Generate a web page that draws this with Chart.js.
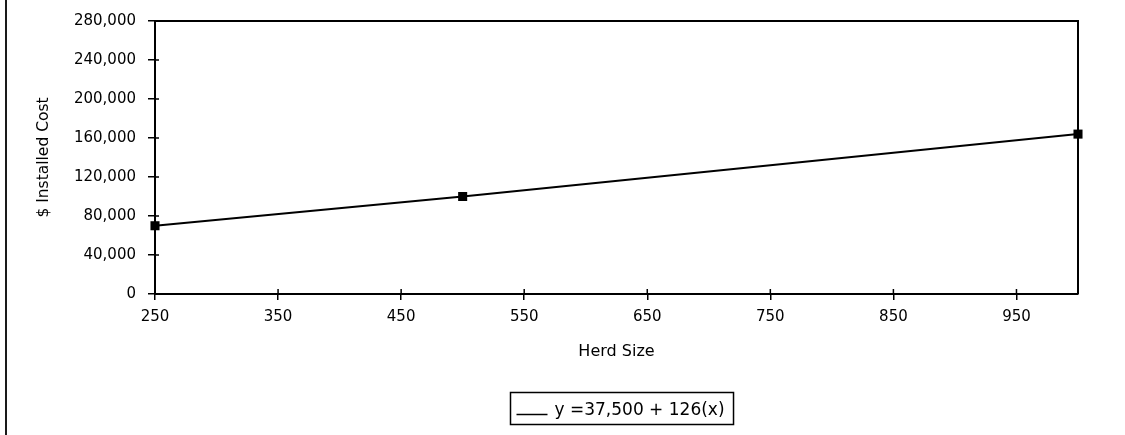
<!DOCTYPE html>
<html>
<head>
<meta charset="utf-8">
<script src="https://cdn.jsdelivr.net/npm/chart.js@4.4.1/dist/chart.umd.min.js"></script>
<style>
  html, body { margin: 0; padding: 0; background: #fff; }
  #wrap { position: relative; width: 1125px; height: 435px; overflow: hidden; }
  #edge { position: absolute; left: 5px; top: 0; width: 2px; height: 435px; background: #1a1a1a; }
  canvas { position: absolute; left: 0; top: 0; }
</style>
</head>
<body>
<div id="wrap">
  <div id="edge"></div>
  <canvas id="c" width="1125" height="435"></canvas>
</div>
<script>
// Installed cost by herd size
const herdSize = [250, 500, 1000];
const installedCost = [70000, 100000, 164000];
const xTickValues = [250, 350, 450, 550, 650, 750, 850, 950];
const yTickValues = [0, 40000, 80000, 120000, 160000, 200000, 240000, 280000];
const seriesLabel = 'y =37,500 + 126(x)';
const xTitle = 'Herd Size';
const yTitle = '$ Installed Cost';

const FONT = 'DejaVu Sans';
const INK = '#000';

// short tick marks that continue inside the plot frame
const innerTicks = {
  id: 'innerTicks',
  afterDraw(chart) {
    const { ctx, chartArea: a, scales } = chart;
    ctx.save();
    ctx.strokeStyle = INK;
    ctx.lineWidth = 1.5;
    ctx.beginPath();
    scales.x.ticks.forEach(t => {
      const px = scales.x.getPixelForValue(t.value);
      ctx.moveTo(px, a.bottom);
      ctx.lineTo(px, a.bottom - 5);
    });
    scales.y.ticks.forEach(t => {
      const py = scales.y.getPixelForValue(t.value);
      ctx.moveTo(a.left, py);
      ctx.lineTo(a.left + 4, py);
    });
    ctx.stroke();
    ctx.restore();
  }
};

// top and right edges of the plot frame
const frame = {
  id: 'frame',
  beforeDatasetsDraw(chart) {
    const { ctx, chartArea: a } = chart;
    ctx.save();
    ctx.strokeStyle = INK;
    ctx.lineWidth = 2;
    ctx.beginPath();
    ctx.moveTo(a.left, a.top);
    ctx.lineTo(a.right, a.top);
    ctx.lineTo(a.right, a.bottom);
    ctx.stroke();
    ctx.restore();
  }
};

// boxed legend below the axis title
const boxedLegend = {
  id: 'boxedLegend',
  afterDraw(chart) {
    const { ctx, chartArea: a } = chart;
    const ds = chart.data.datasets[0];
    ctx.save();
    ctx.font = '17px "' + FONT + '"';
    const textW = ctx.measureText(ds.label).width;
    const sampleW = 31, gap = 7, padL = 6, padR = 9;
    const boxW = padL + sampleW + gap + textW + padR;
    const boxH = 32;
    const cx = (a.left + a.right) / 2 + 5;
    const x0 = Math.round(cx - boxW / 2) + 0.5;
    const y0 = 392.5;
    ctx.strokeStyle = INK;
    ctx.lineWidth = 1.5;
    ctx.strokeRect(x0, y0, boxW, boxH);
    // series sample
    ctx.strokeStyle = ds.borderColor;
    ctx.lineWidth = 1.5;
    ctx.beginPath();
    ctx.moveTo(x0 + padL, y0 + 22);
    ctx.lineTo(x0 + padL + sampleW, y0 + 22);
    ctx.stroke();
    ctx.fillStyle = INK;
    ctx.textBaseline = 'alphabetic';
    ctx.textAlign = 'left';
    ctx.fillText(ds.label, x0 + padL + sampleW + gap, y0 + 22);
    ctx.restore();
  }
};

new Chart(document.getElementById('c'), {
  type: 'scatter',
  data: {
    datasets: [{
      label: seriesLabel,
      data: herdSize.map((x, i) => ({ x, y: installedCost[i] })),
      showLine: true,
      borderColor: INK,
      borderWidth: 2,
      backgroundColor: INK,
      pointStyle: 'rect',
      pointRadius: 6.4,
      pointBorderWidth: 0,
      pointBackgroundColor: INK,
      clip: false,
      tension: 0
    }]
  },
  options: {
    responsive: false,
    animation: false,
    devicePixelRatio: 1,
    layout: { padding: { left: 35, top: 19, right: 47, bottom: 74 } },
    plugins: {
      legend: { display: false },
      tooltip: { enabled: false }
    },
    scales: {
      x: {
        type: 'linear',
        min: 250,
        max: 1000,
        afterBuildTicks: s => { s.ticks = xTickValues.map(v => ({ value: v })); },
        afterFit: s => { s.height = 67; },
        ticks: {
          color: INK,
          font: { family: FONT, size: 15 },
          padding: 8,
          maxRotation: 0,
          autoSkip: false
        },
        grid: { drawOnChartArea: false, tickLength: 6, color: INK, lineWidth: 1.5 },
        border: { display: true, color: INK, width: 2 },
        title: {
          display: true,
          text: xTitle,
          color: INK,
          font: { family: FONT, size: 16 },
          padding: 0
        }
      },
      y: {
        type: 'linear',
        min: 0,
        max: 280000,
        afterBuildTicks: s => { s.ticks = yTickValues.map(v => ({ value: v })); },
        afterFit: s => { s.width = 120; },
        ticks: {
          color: INK,
          font: { family: FONT, size: 15 },
          padding: 12,
          autoSkip: false,
          callback: v => v.toLocaleString('en-US')
        },
        grid: { drawOnChartArea: false, tickLength: 7, color: INK, lineWidth: 1.5 },
        border: { display: true, color: INK, width: 2 },
        title: {
          display: true,
          text: yTitle,
          color: INK,
          font: { family: FONT, size: 15.5 },
          padding: 0
        }
      }
    }
  },
  plugins: [frame, innerTicks, boxedLegend]
});
</script>
</body>
</html>
